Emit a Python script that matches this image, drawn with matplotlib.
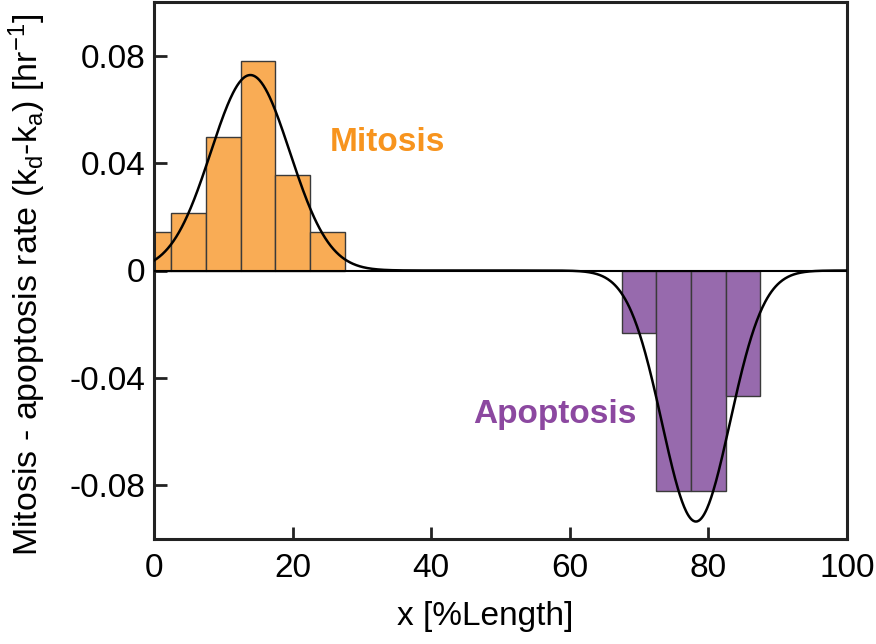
import numpy as np
import matplotlib
matplotlib.use("Agg")
import matplotlib.pyplot as plt

plt.rcParams['font.family'] = ['Liberation Sans', 'DejaVu Sans']
plt.rcParams['mathtext.fontset'] = 'custom'
plt.rcParams['mathtext.rm'] = 'Liberation Sans'
plt.rcParams['mathtext.it'] = 'Liberation Sans'

# Histogram data (bin centers in %Length, rate in 1/hr)
mitosis_x = [0, 5, 10, 15, 20, 25]
mitosis_rate = [0.0142, 0.0214, 0.0499, 0.0781, 0.0357, 0.0142]
apoptosis_x = [70, 75, 80, 85]
apoptosis_rate = [-0.0234, -0.0820, -0.0820, -0.0468]
bin_width = 5

# Gaussian fit parameters: (amplitude, center, sigma)
mitosis_fit = (0.0728, 13.9, 5.7)
apoptosis_fit = (-0.0935, 78.2, 4.9)

x_ticks = [0, 20, 40, 60, 80, 100]
y_ticks = [-0.08, -0.04, 0, 0.04, 0.08]
y_ticklabels = ['-0.08', '-0.04', '0', '0.04', '0.08']

W, H = 876, 644
fig = plt.figure(figsize=(W/100, H/100), dpi=100)
ax = fig.add_axes([154/W, 1-539/H, (847-154)/W, (539-2)/H])

ax.bar(mitosis_x, mitosis_rate, width=bin_width, color='#F9AC55',
       edgecolor='#3a3a3a', linewidth=1.0, zorder=2)
ax.bar(apoptosis_x, apoptosis_rate, width=bin_width, color='#976AAD',
       edgecolor='#3a3a3a', linewidth=1.0, zorder=2)

ax.axhline(0, color='black', lw=1.5, zorder=3)

xs = np.linspace(0, 100, 1001)
curve = np.zeros_like(xs)
for a, m, s in (mitosis_fit, apoptosis_fit):
    curve += a * np.exp(-(xs - m) ** 2 / (2 * s ** 2))
ax.plot(xs, curve, color='black', lw=1.8, zorder=4)

ax.text(33.7, 0.0476, 'Mitosis', color='#F7941E', fontsize=24,
        fontweight='bold', ha='center', va='center')
ax.text(57.8, -0.0535, 'Apoptosis', color='#8C48A0', fontsize=24,
        fontweight='bold', ha='center', va='center')

ax.set_xlim(0, 100)
ax.set_ylim(-0.1, 0.1)
ax.set_xticks(x_ticks)
ax.set_yticks(y_ticks)
ax.set_yticklabels(y_ticklabels)
ax.tick_params(axis='x', direction='in', length=9, width=2, labelsize=24,
               pad=10, color='#222222')
ax.tick_params(axis='y', direction='in', length=9, width=2, labelsize=24,
               pad=6, color='#222222')
for sp in ax.spines.values():
    sp.set_linewidth(2.2)
    sp.set_color('#222222')

fig.text(485/W, 1-617/H, 'x [%Length]', fontsize=24, ha='center', va='center')
fig.text(27/W, 1-285/H,
         r'Mitosis - apoptosis rate (k$_\mathregular{d}$-k$_\mathregular{a}$) [hr$^\mathregular{-1}$]',
         fontsize=24.5, rotation=90, ha='center', va='center')

fig.savefig('out.png', dpi=100)
